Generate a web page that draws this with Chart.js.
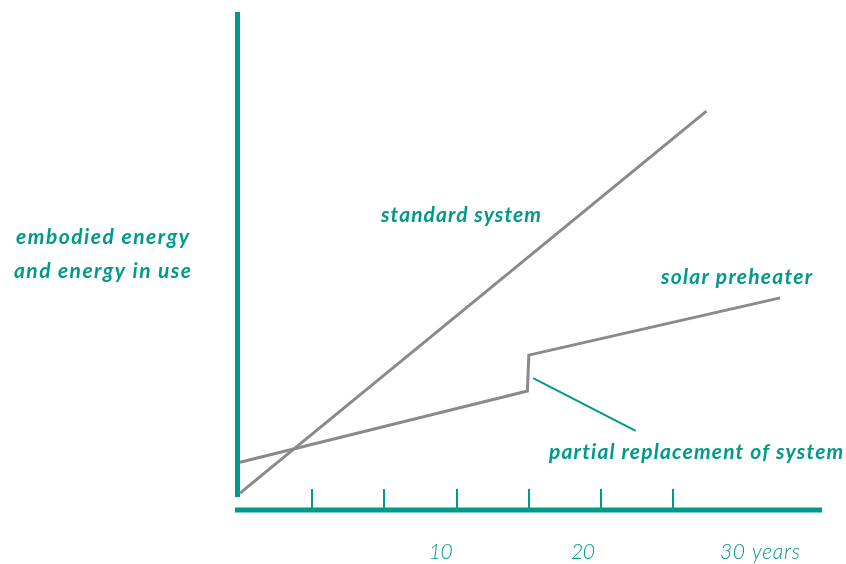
<!DOCTYPE html>
<html>
<head>
<meta charset="utf-8">
<script src="https://cdn.jsdelivr.net/npm/chart.js@4/dist/chart.umd.min.js"></script>
<style>
  html, body { margin: 0; padding: 0; background: #fff; }
  #wrap { width: 846px; height: 564px; }
</style>
</head>
<body>
<div id="wrap"><canvas id="c" width="846" height="564"></canvas></div>
<script>
// years on x, energy (arbitrary units 0-100) on y
var standardX = [0, 32.3];
var standardY = [3.4, 80.1];

var solarX = [0, 19.9, 20.0, 37.4];
var solarY = [9.6, 23.9, 31.1, 42.6];

// pointer from the jump to the "partial replacement" note
var pointerX = [20.3, 27.4];
var pointerY = [26.5, 15.9];

var tickYears = [5, 10, 15, 20, 25, 30];
var tickLabels = ["10", "20", "30 years"];
var tickLabelYears = [13.9, 23.75, 36.0];

var teal = "#00998b";
var grey = "#8a8a8a";

function pts(xs, ys) {
    return xs.map(function (x, i) { return { x: x, y: ys[i] }; });
}

// stretch text with letter spacing so it spans the given width (the original face is wider than Lato)
function wideText(ctx, text, x, y, width) {
    ctx.letterSpacing = "0px";
    var w = ctx.measureText(text).width;
    var sp = (width - w) / Math.max(1, text.length - 1);
    ctx.letterSpacing = sp.toFixed(2) + "px";
    ctx.fillText(text, x, y);
    ctx.letterSpacing = "0px";
}

var axesPlugin = {
    id: "axesPlugin",
    beforeDatasetsDraw: function (chart) {
        var ctx = chart.ctx;
        var xs = chart.scales.x, ys = chart.scales.y;
        var x0 = xs.getPixelForValue(0);
        var y0 = ys.getPixelForValue(0);
        ctx.save();
        ctx.fillStyle = teal;
        // vertical axis
        ctx.fillRect(x0 - 5, ys.getPixelForValue(100), 5, y0 - 13 - ys.getPixelForValue(100));
        // horizontal axis
        ctx.fillRect(x0 - 5, y0 - 2.5, xs.getPixelForValue(xs.max) - x0 + 5, 5);
        // ticks
        tickYears.forEach(function (t) {
            var px = Math.round(xs.getPixelForValue(t));
            ctx.fillRect(px - 1, y0 - 21, 2, 20);
        });
        // tick labels
        ctx.font = "italic 300 21px Lato";
        ctx.textAlign = "left";
        ctx.textBaseline = "alphabetic";
        var widths = [24, 24, 80];
        tickLabels.forEach(function (t, i) {
            var cx = xs.getPixelForValue(tickLabelYears[i]);
            wideText(ctx, t, cx - widths[i] / 2, y0 + 49, widths[i]);
        });
        // annotations
        ctx.font = "italic bold 21px Lato";
        wideText(ctx, "embodied energy", 16, 244, 173);
        wideText(ctx, "and energy in use", 14, 278, 177);
        wideText(ctx, "standard system", 381, 222, 160);
        wideText(ctx, "solar preheater", 661, 284, 151);
        wideText(ctx, "partial replacement of system", 549, 459, 294);
        ctx.restore();
    }
};

new Chart(document.getElementById("c").getContext("2d"), {
    type: "line",
    data: {
        datasets: [
            { data: pts(standardX, standardY), borderColor: grey, borderWidth: 3, pointRadius: 0, clip: false },
            { data: pts(solarX, solarY), borderColor: grey, borderWidth: 3, pointRadius: 0, clip: false },
            { data: pts(pointerX, pointerY), borderColor: teal, borderWidth: 2, pointRadius: 0, clip: false }
        ]
    },
    options: {
        responsive: false,
        animation: false,
        layout: { padding: { left: 240, top: 12, right: 24, bottom: 54 } },
        plugins: { legend: { display: false }, tooltip: { enabled: false } },
        scales: {
            x: { type: "linear", min: 0, max: 40.3, display: false },
            y: { type: "linear", min: 0, max: 100, display: false }
        }
    },
    plugins: [axesPlugin]
});
</script>
</body>
</html>
